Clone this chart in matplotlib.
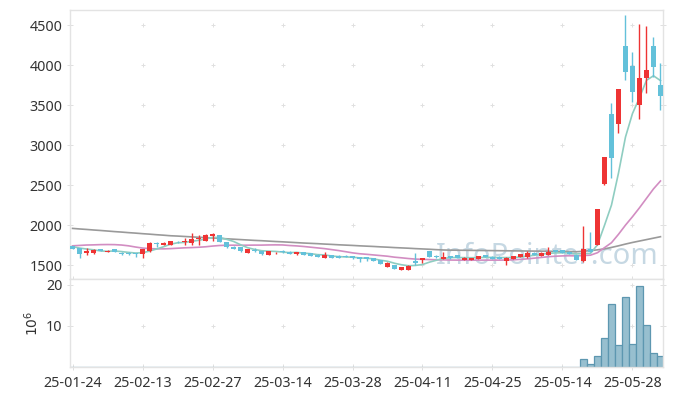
import matplotlib.pyplot as plt
import numpy as np

# 일봉 데이터
opens = [1735, 1710, 1655, 1655, 1700, 1665, 1695, 1655, 1655, 1650,
         1635, 1680, 1770, 1750, 1750, 1790, 1785, 1780, 1828, 1805,
         1865, 1870, 1785, 1730, 1720, 1655, 1690, 1679, 1630, 1645,
         1668, 1665, 1632, 1658, 1646, 1629, 1592, 1620, 1617, 1615,
         1612, 1596, 1596, 1587, 1562, 1479, 1500, 1441, 1437, 1555,
         1565, 1677, 1615, 1580, 1612, 1625, 1566, 1566, 1579, 1625,
         1604, 1604, 1554, 1579, 1604, 1596, 1654, 1612, 1625, 1687,
         1687, 1666, 1625, 1550, 1700, 1755, 2516, 3387, 3266, 4237,
         3987, 3504, 3837, 4237, 3750]
highs = [1740, 1712, 1710, 1700, 1705, 1690, 1700, 1660, 1660, 1655,
         1700, 1790, 1790, 1785, 1800, 1805, 1840, 1900, 1875, 1890,
         1895, 1880, 1790, 1735, 1725, 1705, 1710, 1680, 1680, 1660,
         1690, 1670, 1662, 1660, 1650, 1632, 1665, 1625, 1620, 1620,
         1615, 1600, 1600, 1590, 1565, 1535, 1505, 1478, 1495, 1646,
         1590, 1680, 1620, 1666, 1615, 1628, 1595, 1590, 1615, 1630,
         1608, 1608, 1595, 1615, 1640, 1675, 1658, 1658, 1729, 1690,
         1690, 1670, 1630, 1987, 1908, 2200, 2854, 3521, 3700, 4625,
         4166, 4512, 4487, 4346, 4021]
lows = [1700, 1590, 1625, 1640, 1670, 1660, 1660, 1630, 1630, 1600,
        1590, 1665, 1730, 1745, 1745, 1770, 1745, 1750, 1750, 1800,
        1805, 1790, 1715, 1700, 1665, 1650, 1660, 1620, 1625, 1640,
        1645, 1640, 1628, 1625, 1610, 1600, 1590, 1585, 1585, 1595,
        1570, 1541, 1555, 1545, 1510, 1475, 1445, 1433, 1435, 1500,
        1522, 1595, 1590, 1575, 1580, 1585, 1562, 1562, 1575, 1600,
        1578, 1578, 1500, 1575, 1600, 1592, 1622, 1608, 1620, 1662,
        1650, 1635, 1565, 1541, 1660, 1745, 2500, 2583, 3146, 3812,
        3533, 3321, 3646, 3854, 3437]
closes = [1705, 1640, 1675, 1685, 1675, 1680, 1665, 1635, 1635, 1635,
          1695, 1770, 1765, 1775, 1795, 1785, 1795, 1830, 1840, 1875,
          1885, 1790, 1720, 1705, 1670, 1700, 1680, 1640, 1675, 1655,
          1662, 1642, 1658, 1630, 1617, 1604, 1620, 1592, 1591, 1597,
          1591, 1575, 1571, 1550, 1512, 1529, 1450, 1475, 1491, 1530,
          1585, 1600, 1595, 1602, 1585, 1588, 1591, 1587, 1612, 1604,
          1580, 1580, 1591, 1612, 1637, 1646, 1625, 1654, 1666, 1666,
          1654, 1637, 1568, 1700, 1665, 2196, 2850, 2841, 3700, 3917,
          3666, 3837, 3937, 3979, 3616]

# 거래량 (백만 주)
volumes = [0.10, 0.09, 0.08, 0.07, 0.06, 0.06, 0.07, 0.06, 0.05, 0.06,
           0.08, 0.12, 0.09, 0.07, 0.08, 0.07, 0.08, 0.10, 0.09, 0.10,
           0.11, 0.09, 0.08, 0.06, 0.07, 0.06, 0.05, 0.06, 0.06, 0.05,
           0.05, 0.05, 0.05, 0.05, 0.06, 0.06, 0.07, 0.06, 0.05, 0.05,
           0.05, 0.07, 0.06, 0.07, 0.09, 0.08, 0.10, 0.08, 0.07, 0.12,
           0.08, 0.10, 0.06, 0.07, 0.05, 0.05, 0.05, 0.05, 0.06, 0.05,
           0.05, 0.05, 0.06, 0.06, 0.07, 0.07, 0.06, 0.06, 0.08, 0.06,
           0.06, 0.06, 0.09, 2.0, 0.8, 2.75, 7.1, 15.2, 5.4, 17.1,
           5.7, 19.8, 10.1, 3.5, 2.75]

# 이동평균선
ma5 = [1730, 1712, 1700, 1690, 1676, 1671, 1676, 1668, 1658, 1650,
       1653, 1674, 1700, 1728, 1760, 1778, 1783, 1796, 1809, 1825,
       1845, 1844, 1822, 1795, 1754, 1717, 1695, 1679, 1673, 1670,
       1662, 1655, 1658, 1649, 1642, 1630, 1626, 1613, 1605, 1601,
       1598, 1589, 1585, 1577, 1560, 1547, 1522, 1503, 1491, 1495,
       1506, 1536, 1560, 1582, 1593, 1594, 1592, 1591, 1593, 1596,
       1595, 1593, 1593, 1593, 1600, 1613, 1622, 1635, 1646, 1651,
       1653, 1655, 1638, 1645, 1645, 1753, 1996, 2250, 2650, 3101,
       3395, 3592, 3811, 3867, 3807]
ma20 = [1740, 1745, 1750, 1752, 1755, 1756, 1755, 1750, 1740, 1725,
        1712, 1705, 1702, 1702, 1705, 1710, 1715, 1718, 1722, 1728,
        1737, 1744, 1747, 1748, 1747, 1748, 1749, 1749, 1751, 1752,
        1751, 1744, 1739, 1732, 1723, 1714, 1705, 1693, 1681, 1667,
        1652, 1641, 1634, 1626, 1618, 1610, 1598, 1590, 1581, 1574,
        1571, 1568, 1565, 1564, 1562, 1561, 1560, 1560, 1561, 1561,
        1561, 1561, 1562, 1565, 1571, 1577, 1586, 1595, 1604, 1610,
        1614, 1616, 1614, 1619, 1623, 1654, 1717, 1779, 1884, 1999,
        2104, 2216, 2334, 2452, 2551]
ma120 = [1958, 1951, 1945, 1938, 1932, 1925, 1918, 1912, 1905, 1899,
         1892, 1886, 1879, 1873, 1866, 1862, 1857, 1852, 1847, 1843,
         1838, 1833, 1828, 1823, 1818, 1813, 1808, 1804, 1799, 1794,
         1790, 1785, 1780, 1775, 1771, 1767, 1762, 1758, 1753, 1749,
         1745, 1740, 1736, 1732, 1727, 1723, 1718, 1714, 1710, 1705,
         1701, 1697, 1692, 1688, 1686, 1685, 1684, 1683, 1682, 1681,
         1680, 1679, 1678, 1677, 1676, 1675, 1674, 1673, 1672, 1670,
         1669, 1668, 1666, 1672, 1680, 1690, 1702, 1720, 1740, 1762,
         1782, 1800, 1818, 1836, 1854]

tick_labels = ['25-01-24', '25-02-13', '25-02-27', '25-03-14', '25-03-28',
               '25-04-11', '25-04-25', '25-05-14', '25-05-28']

UP = '#ee3434'
DOWN = '#63c1da'
GRID = '#e0e0e0'
SPINE = '#e3e3e3'

plt.rcParams['font.family'] = ['Noto Sans', 'DejaVu Sans']

x = np.arange(len(closes))
o = np.array(opens)
c = np.array(closes)
colors = [UP if c[i] >= o[i] else DOWN for i in range(len(c))]

fig = plt.figure(figsize=(6.73, 3.96), dpi=100)
W, H = 673, 396
ax = fig.add_axes([70 / W, 1 - 279 / H, 593 / W, 269 / H])
axv = fig.add_axes([70 / W, 1 - 367 / H, 593 / W, 88 / H], sharex=ax)

xticks = np.arange(0, 81, 10)
yticks = np.arange(1500, 4501, 500)

# 워터마크
ax.text(0.805, 0.085, 'InfoPointer.com', transform=ax.transAxes, ha='center', va='center',
        fontsize=21, color='#c6d8e3', zorder=0)

# + 모양 격자
gx, gy = np.meshgrid(xticks[1:], yticks)
ax.scatter(gx.ravel(), gy.ravel(), marker='+', s=12, color=GRID, linewidths=0.7, zorder=0.5)
vx, vy = np.meshgrid(xticks[1:], [10, 20])
axv.scatter(vx.ravel(), vy.ravel(), marker='+', s=12, color=GRID, linewidths=0.7, zorder=0.5)

# 이동평균선
ax.plot(x, ma120, color='#9a9a9a', lw=1.2, zorder=2)
ax.plot(x, ma20, color='#d28dc2', lw=1.2, zorder=2)
ax.plot(x, ma5, color='#8fcdc1', lw=1.2, zorder=2)

# 캔들
ax.vlines(x, lows, highs, colors=colors, lw=1, zorder=3)
body = np.maximum(np.abs(c - o), 8)
ax.bar(x, body, bottom=np.minimum(o, c), width=0.72, color=colors, lw=0, zorder=4)

# 거래량
axv.bar(x, volumes, width=1.0, color='#97bfcf', edgecolor='#5d97b0', lw=0.9, zorder=2)

ax.set_xlim(-0.36, 84.36)
ax.set_ylim(1325, 4690)
axv.set_ylim(0, 21.4)

ax.set_yticks(yticks)
axv.set_yticks([10, 20])
axv.set_xticks(xticks)
axv.set_xticklabels(tick_labels)
ax.tick_params(axis='x', labelbottom=False)

for a in (ax, axv):
    for s in a.spines.values():
        s.set_color(SPINE)
        s.set_linewidth(1)
    a.tick_params(axis='both', direction='inout', length=5, width=0.7, color=GRID,
                  labelsize=10.3, labelcolor='#333333', pad=3, right=True)
axv.tick_params(axis='x', pad=4)

axv.set_ylabel('$10^6$', fontsize=10, color='#333333', labelpad=3)

fig.savefig('out.png', dpi=100)
